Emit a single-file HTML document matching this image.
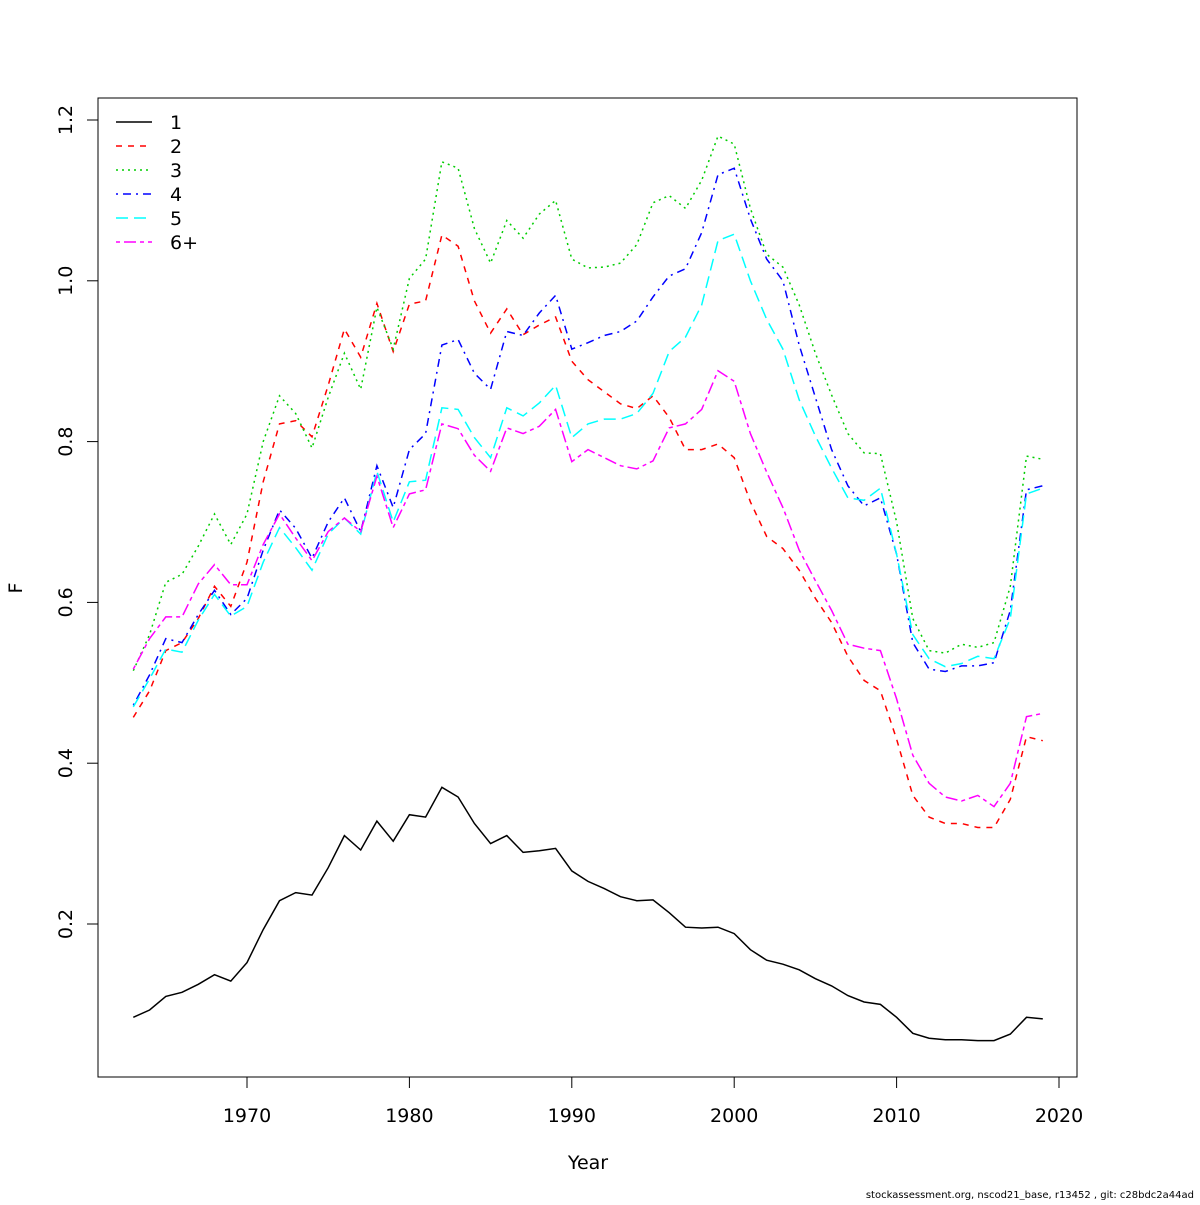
<!DOCTYPE html>
<html><head><meta charset="utf-8"><style>
body{margin:0;background:#fff}
svg text{font-family:"DejaVu Sans","Liberation Sans",sans-serif;fill:#000}
</style></head><body>
<svg id="chart" width="1200" height="1200" xmlns="http://www.w3.org/2000/svg">
<rect x="98" y="98" width="979" height="979" fill="none" stroke="#000" stroke-width="1"/>
<g id="axes"></g>
<g id="series"></g>
<g id="legend"></g>
<text x="588" y="1169" font-size="19" text-anchor="middle">Year</text>
<text x="22" y="588" font-size="19" text-anchor="middle" transform="rotate(-90 22 588)">F</text>
<text x="1194" y="1198" font-size="10" text-anchor="end">stockassessment.org, nscod21_base, r13452 , git: c28bdc2a44ad</text>
</svg>
<script>
const years=[];for(let y=1963;y<=2019;y++)years.push(y);
const xTicks=[1970,1980,1990,2000,2010,2020];
const yTicks=[0.2,0.4,0.6,0.8,1.0,1.2];
const yTickLabels=["0.2","0.4","0.6","0.8","1.0","1.2"];
const seriesNames=["1","2","3","4","5","6+"];
const age1=[0.084,0.093,0.110,0.115,0.125,0.137,0.129,0.152,0.193,0.229,0.239,0.236,0.270,0.310,0.292,0.328,0.303,0.336,0.333,0.370,0.358,0.325,0.300,0.310,0.289,0.291,0.294,0.266,0.253,0.244,0.234,0.229,0.230,0.214,0.196,0.195,0.196,0.188,0.168,0.155,0.150,0.143,0.132,0.123,0.111,0.103,0.100,0.084,0.064,0.058,0.056,0.056,0.055,0.055,0.063,0.084,0.082];
const age2=[0.457,0.49,0.54,0.55,0.58,0.62,0.595,0.65,0.75,0.822,0.826,0.806,0.87,0.94,0.905,0.972,0.912,0.971,0.975,1.057,1.043,0.975,0.935,0.965,0.933,0.945,0.955,0.90,0.877,0.862,0.847,0.841,0.857,0.83,0.79,0.79,0.797,0.78,0.725,0.682,0.667,0.640,0.605,0.575,0.533,0.503,0.49,0.43,0.36,0.333,0.325,0.325,0.32,0.32,0.355,0.433,0.428];
const age3=[0.515,0.56,0.625,0.635,0.67,0.71,0.672,0.71,0.80,0.857,0.835,0.792,0.855,0.91,0.865,0.967,0.915,1.003,1.027,1.148,1.14,1.065,1.022,1.075,1.053,1.083,1.10,1.027,1.016,1.017,1.022,1.045,1.097,1.106,1.09,1.125,1.18,1.17,1.09,1.033,1.017,0.97,0.91,0.858,0.81,0.786,0.785,0.70,0.58,0.54,0.537,0.548,0.544,0.55,0.62,0.782,0.778];
const age4=[0.472,0.51,0.555,0.55,0.585,0.615,0.585,0.605,0.665,0.715,0.692,0.655,0.70,0.73,0.688,0.77,0.718,0.79,0.81,0.92,0.927,0.885,0.865,0.937,0.932,0.96,0.982,0.915,0.923,0.932,0.937,0.95,0.98,1.006,1.015,1.06,1.132,1.14,1.077,1.027,1.0,0.92,0.855,0.79,0.745,0.72,0.73,0.66,0.55,0.517,0.514,0.521,0.521,0.525,0.59,0.74,0.745];
const age5=[0.47,0.505,0.542,0.538,0.578,0.61,0.583,0.595,0.65,0.693,0.668,0.64,0.685,0.705,0.685,0.763,0.70,0.75,0.752,0.842,0.84,0.805,0.78,0.842,0.832,0.848,0.87,0.805,0.822,0.828,0.828,0.835,0.86,0.912,0.93,0.97,1.05,1.058,1.0,0.952,0.915,0.852,0.807,0.767,0.73,0.727,0.742,0.66,0.56,0.53,0.52,0.524,0.533,0.53,0.58,0.735,0.742];
const age6=[0.517,0.555,0.582,0.582,0.623,0.647,0.622,0.622,0.672,0.71,0.68,0.652,0.688,0.705,0.688,0.757,0.693,0.735,0.74,0.822,0.816,0.783,0.763,0.817,0.81,0.819,0.84,0.775,0.79,0.78,0.77,0.766,0.776,0.817,0.822,0.84,0.888,0.875,0.81,0.762,0.718,0.665,0.627,0.59,0.548,0.543,0.54,0.48,0.41,0.375,0.358,0.353,0.36,0.346,0.375,0.458,0.462];
const allSeries=[age1,age2,age3,age4,age5,age6];
const colors=["#000","#ff0000","#00cd00","#0000ff","#00ffff","#ff00ff"];
const dashes=["","6,6","2,4","2,5,8,5","12,6","4,4,12,4"];
const xs=y=>247+(y-1970)*16.24;
const ys=v=>120+(1.2-v)*804;
const NS="http://www.w3.org/2000/svg";
function mk(t,a,p){const e=document.createElementNS(NS,t);for(const k in a)e.setAttribute(k,a[k]);p.appendChild(e);return e;}
const ax=document.getElementById('axes');
xTicks.forEach(t=>{
 const l=mk('line',{x1:xs(t),x2:xs(t),y1:1077,y2:1088,stroke:'#000'},ax);
 
 
 const tx=mk('text',{x:xs(t),y:1122,'font-size':19,'text-anchor':'middle'},ax);tx.textContent=t;
 
 
});
const xl=mk('line',{x1:xs(1970),x2:xs(2020),y1:1077,y2:1077,stroke:'#000'},ax);


yTicks.forEach((t,i)=>{
 const l=mk('line',{x1:87,x2:98,y1:ys(t),y2:ys(t),stroke:'#000'},ax);
 
 
 const tx=mk('text',{x:72,y:ys(t),'font-size':19,'text-anchor':'middle',transform:`rotate(-90 72 ${ys(t)})`},ax);tx.textContent=yTickLabels[i];
 
 
});
const sg=document.getElementById('series');
allSeries.forEach((s,i)=>{
 const pts=s.map((v,j)=>xs(years[j]).toFixed(1)+','+ys(v).toFixed(1)).join(' ');
 const p=mk('polyline',{points:pts,fill:'none',stroke:colors[i],'stroke-width':1.5,'stroke-dasharray':dashes[i]},sg);
 
 
});
const lg=document.getElementById('legend');
seriesNames.forEach((n,i)=>{
 const y=122+i*24;
 const g=mk('g',{},lg);
 
 
 mk('line',{x1:116,x2:152,y1:y,y2:y,stroke:colors[i],'stroke-width':1.5,'stroke-dasharray':dashes[i]},g);
 const t=mk('text',{x:170,y:y+7,'font-size':19},g);t.textContent=n;
});
</script>
</body></html>
